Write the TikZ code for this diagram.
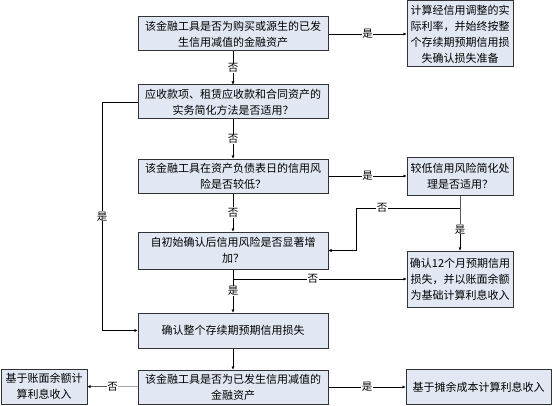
\documentclass[tikz,border=0pt]{standalone}
\usepackage{fontspec}
\setmainfont{Noto Sans CJK SC}
\usetikzlibrary{arrows.meta}
\definecolor{boxfill}{RGB}{225,232,243}

\begin{document}
\begin{tikzpicture}[x=1pt, y=-1pt,
    font=\fontsize{11}{16}\selectfont,
    box/.style={draw=black!80, line width=1pt, fill=boxfill, rectangle, align=center, inner sep=0pt},
    mainbox/.style={box, minimum width=190pt, minimum height=34pt},
    sidebox/.style={box, minimum width=106pt},
    lab/.style={fill=white, inner sep=0.5pt, font=\fontsize{10.5}{12}\selectfont},
    >={Latex[length=3pt, width=3pt]}]
    \useasboundingbox (0,0) rectangle (553,406);

    \node[mainbox] (impaired) at (233,34) {该金融工具是否为购买或源生的已发\\生信用减值的金融资产};
    \node[mainbox] (simple) at (233,102) {应收款项、租赁应收款和合同资产的\\实务简化方法是否适用？};
    \node[mainbox] (lowrisk) at (233,176) {该金融工具在资产负债表日的信用风\\险是否较低？};
    \node[mainbox, minimum height=37pt] (increase) at (233,250.5) {自初始确认后信用风险是否显著增\\加？};
    \node[mainbox, minimum height=35pt] (lifetime) at (233,330.5) {确认整个存续期预期信用损失};
    \node[mainbox] (credit) at (233,387) {该金融工具是否为已发生信用减值的\\金融资产};

    \node[sidebox, minimum height=66pt] (adjusted) at (460,34) {计算经信用调整的实\\际利率，并始终按整\\个存续期预期信用损\\失确认损失准备};
    \node[sidebox, minimum height=38pt] (lowapply) at (460,176) {较低信用风险简化处\\理是否适用？};
    \node[sidebox, minimum height=56pt] (twelve) at (460,279) {确认12个月预期信用\\损失，并以账面余额\\为基础计算利息收入};
    \node[box, minimum width=86pt, minimum height=35pt] (gross) at (44,386.5) {基于账面余额计\\算利息收入};
    \node[box, minimum width=145pt, minimum height=35pt] (amortised) at (478.5,387) {基于摊余成本计算利息收入};

    \coordinate (split) at (460,208);
    \coordinate (bend) at (356,208);
    \coordinate (loop) at (102,102);

    \draw[->] (impaired) -- node[lab] {是} (adjusted);
    \draw[->] (impaired) -- node[lab] {否} (simple);
    \draw[->] (simple) -- node[lab] {否} (lowrisk);
    \draw[->] (lowrisk) -- node[lab] {是} (lowapply);
    \draw[->] (lowrisk) -- node[lab] {否} (increase);

    \draw[->] (lowapply) -- (split) -- node[lab] {是} (twelve);
    \draw[->] (split) -- node[lab, pos=0.75] {否} (bend) |- (increase);

    \draw[->] (increase) -- node[lab, pos=0.5] {是} (lifetime);
    \draw[->] (increase.south |- twelve.west) -- node[lab, pos=0.46] {否} (twelve.west);

    \draw[->] (simple.west) -- (loop) |- node[lab, pos=0.25] {是} (lifetime.west);
    \draw[->] (lifetime) -- (credit);

    \draw[->] (credit) -- node[lab] {否} (gross);
    \draw[->] (credit) -- node[lab] {是} (amortised);
\end{tikzpicture}
\end{document}
